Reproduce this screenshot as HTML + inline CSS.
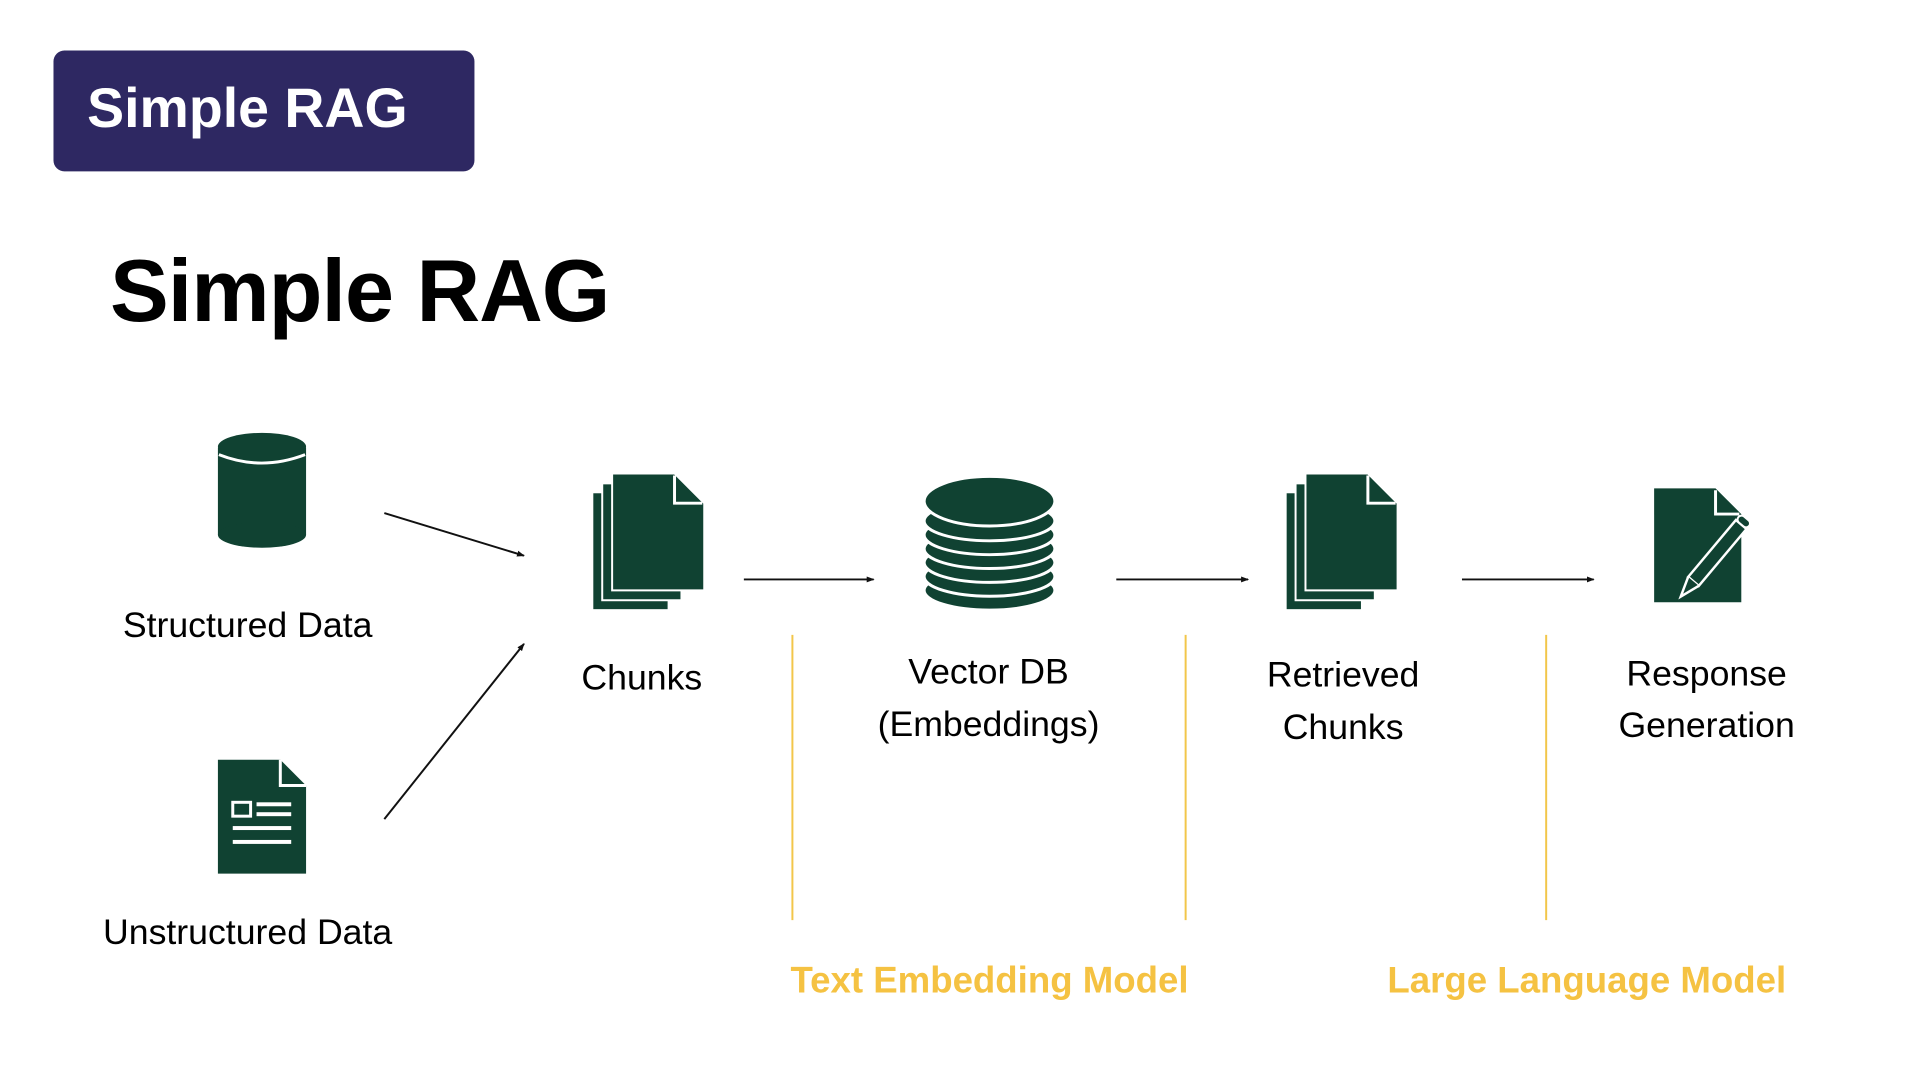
<!DOCTYPE html>
<html><head><meta charset="utf-8"><style>
html,body{margin:0;padding:0;background:#fff;width:1920px;height:1080px;overflow:hidden}
svg text{font-family:"Liberation Sans",Arial,sans-serif}
</style></head><body>
<svg width="1920" height="1080" viewBox="0 0 1920 1080" xmlns="http://www.w3.org/2000/svg">
<defs><marker id="ah" markerWidth="8" markerHeight="8" refX="7" refY="4" orient="auto" markerUnits="userSpaceOnUse"><path d="M0,1 L8,4 L0,7 z" fill="#111"/></marker></defs>
<g transform="scale(0.9905)">
<rect x="54" y="51" width="425" height="122" rx="11" fill="#2e2862"/>
<text x="88" y="128" font-size="56" font-weight="bold" fill="#fff">Simple RAG</text>
<text x="111" y="324" font-size="89" font-weight="bold" fill="#000" letter-spacing="-1">Simple RAG</text>
<g fill="#104232">
<rect x="220" y="452" width="89" height="88"/>
<ellipse cx="264.5" cy="540" rx="44.5" ry="13"/>
<ellipse cx="264.5" cy="451" rx="44.5" ry="14"/>
</g>
<path d="M221,459 Q264,476 308,459" stroke="#fff" stroke-width="3" fill="none"/>
<path d="M220,767 H283 L309,793 V882 H220 Z" fill="#104232"/>
<path d="M283,767 V793 H309" stroke="#fff" stroke-width="3" fill="none"/>
<g fill="#fff"><rect x="235" y="810" width="18" height="14" fill="none" stroke="#fff" stroke-width="3"/><rect x="259" y="810" width="35" height="4"/><rect x="259" y="820" width="35" height="4"/><rect x="235" y="834" width="59" height="4"/><rect x="235" y="848" width="59" height="4"/></g>
<text x="250" y="643" font-size="36" text-anchor="middle">Structured Data</text>
<text x="250" y="953" font-size="36" text-anchor="middle">Unstructured Data</text>
<line x1="388" y1="518" x2="529" y2="561" stroke="#111" stroke-width="2" marker-end="url(#ah)"/>
<line x1="388" y1="827" x2="529" y2="650" stroke="#111" stroke-width="2" marker-end="url(#ah)"/>
<g id="ch">
<rect x="599" y="498" width="75" height="117" fill="#104232"/>
<rect x="608" y="488" width="80" height="118" fill="#104232" stroke="#fff" stroke-width="2"/>
<path d="M618,478 H681 L711,508 V596 H618 Z" fill="#104232" stroke="#fff" stroke-width="2"/>
<path d="M681,480 V508 H709" stroke="#fff" stroke-width="3" fill="none"/>
</g>
<use href="#ch" transform="translate(700,0)"/>
<text x="648" y="696" font-size="36" text-anchor="middle">Chunks</text>
<line x1="751" y1="585" x2="882" y2="585" stroke="#111" stroke-width="2" marker-end="url(#ah)"/>
<line x1="1127" y1="585" x2="1260" y2="585" stroke="#111" stroke-width="2" marker-end="url(#ah)"/>
<line x1="1476" y1="585" x2="1609" y2="585" stroke="#111" stroke-width="2" marker-end="url(#ah)"/>
<g fill="#104232" stroke="#fff" stroke-width="3">
<ellipse cx="999" cy="596" rx="66" ry="20"/>
<ellipse cx="999" cy="582" rx="66" ry="20"/>
<ellipse cx="999" cy="568" rx="66" ry="20"/>
<ellipse cx="999" cy="554" rx="66" ry="20"/>
<ellipse cx="999" cy="540" rx="66" ry="20"/>
<ellipse cx="999" cy="526" rx="66" ry="20"/>
<ellipse cx="999" cy="506" rx="66" ry="25"/>
</g>
<text x="998" y="690" font-size="36" text-anchor="middle">Vector DB</text>
<text x="998" y="743" font-size="36" text-anchor="middle">(Embeddings)</text>
<text x="1356" y="693" font-size="36" text-anchor="middle">Retrieved</text>
<text x="1356" y="746" font-size="36" text-anchor="middle">Chunks</text>
<g transform="translate(17,6)">
<path d="M1653,487 H1715 L1741,513 V602 H1653 Z" fill="#104232"/>
<path d="M1715,489 V513 H1739" stroke="#fff" stroke-width="3" fill="none"/>
<g transform="translate(1712,558) rotate(-50)">
<rect x="-30" y="-7" width="75" height="14" fill="#104232" stroke="#fff" stroke-width="2.5"/>
<path d="M-30,-7 L-50,0 L-30,7" fill="#104232" stroke="#fff" stroke-width="2.5"/>
<rect x="45" y="-7" width="8" height="14" rx="4" fill="#104232" stroke="#fff" stroke-width="2"/>
</g>
</g>
<text x="1723" y="692" font-size="36" text-anchor="middle">Response</text>
<text x="1723" y="744" font-size="36" text-anchor="middle">Generation</text>
<g stroke="#f2c64a" stroke-width="2"><line x1="800" y1="641" x2="800" y2="929"/><line x1="1197" y1="641" x2="1197" y2="929"/><line x1="1561" y1="641" x2="1561" y2="929"/></g>
<text x="999" y="1002" font-size="37" font-weight="bold" fill="#f5c242" text-anchor="middle">Text Embedding Model</text>
<text x="1602" y="1002" font-size="37" font-weight="bold" fill="#f5c242" text-anchor="middle">Large Language Model</text>
</g>
</svg>
</body></html>
